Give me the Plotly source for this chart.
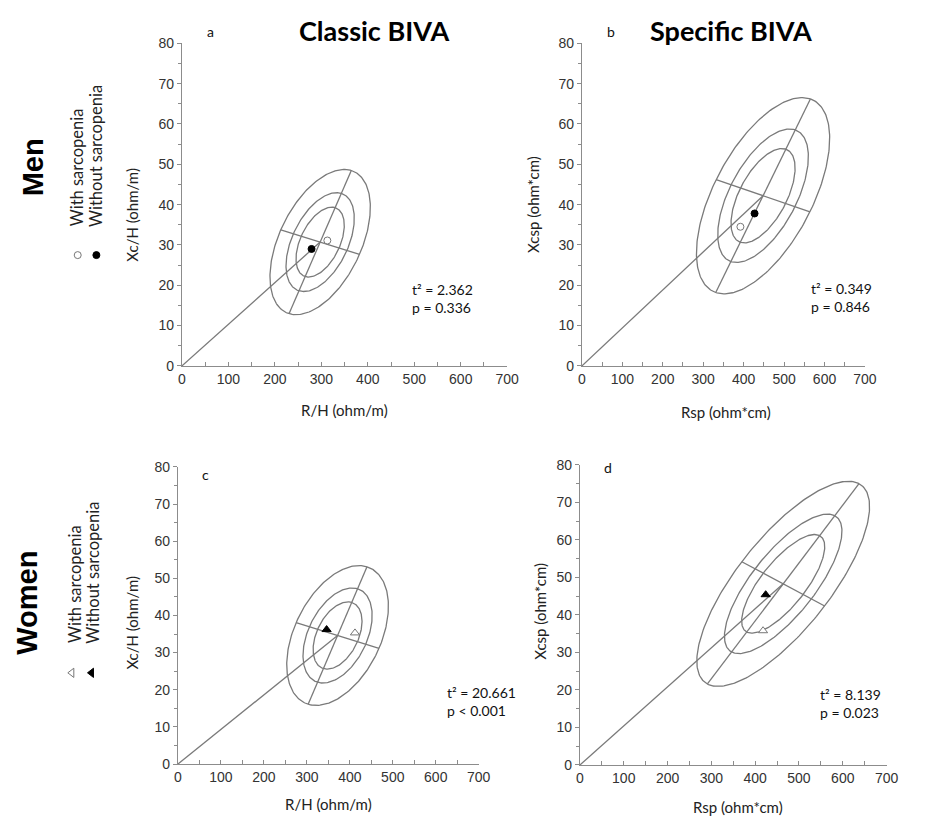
import numpy as np
import plotly.graph_objects as go

W, H = 932, 823

# ---------------- data ----------------
panels = ["a", "b", "c", "d"]
# group means: with sarcopenia (open markers) / without sarcopenia (filled markers)
with_sarc_x = [313, 392, 412, 418]
with_sarc_y = [31.1, 34.5, 35.3, 35.8]
without_sarc_x = [279, 427, 346, 424]
without_sarc_y = [29.0, 37.8, 36.2, 45.4]
# reference tolerance ellipse: centre and 95% semi-axis vectors
ell_cx = [297.5, 448.0, 371.5, 464.0]
ell_cy = [30.7, 42.2, 34.6, 48.3]
major_dx = [67.0, 117.0, 68.5, 173.0]
major_dy = [17.75, 24.0, 18.5, 26.7]
minor_dx = [84.7, 116.0, 96.5, 94.6]
minor_dy = [-3.05, -4.0, -3.45, -5.9]
tolerance_p = [0.50, 0.75, 0.95]
t2_text = ["t² = 2.362", "t² = 0.349", "t² = 20.661", "t² = 8.139"]
p_text = ["p = 0.336", "p = 0.846", "p < 0.001", "p = 0.023"]
stat_pos_x = [490, 562, 622, 543]
stat_pos_y = [16.8, 17.0, 16.9, 16.3]
x_titles = ["R/H (ohm/m)", "Rsp (ohm*cm)", "R/H (ohm/m)", "Rsp (ohm*cm)"]
y_titles = ["Xc/H (ohm/m)", "Xcsp (ohm*cm)", "Xc/H (ohm/m)", "Xcsp (ohm*cm)"]
col_titles = ["Classic BIVA", "Specific BIVA"]
row_titles = ["Men", "Women"]
legend_labels = ["With sarcopenia", "Without sarcopenia"]

# ---------------- layout geometry (pixels) ----------------
px_x = [(181, 512), (588, 876), (177, 483), (586, 898)]
px_y = [(36, 365), (36, 365), (468, 771), (466, 772)]

LINE = "#7a7a7a"
AX = "#8c8c8c"
TICKFONT = dict(family="Liberation Sans, Arial", size=14, color="#333333")
TXTFONT = "Lato, Carlito, Calibri, sans-serif"

fig = go.Figure()
chi95 = -2 * np.log(1 - 0.95)
theta = np.linspace(0, 2 * np.pi, 241)

for i, pn in enumerate(panels):
    xa = "x" if i == 0 else f"x{i+1}"
    ya = "y" if i == 0 else f"y{i+1}"
    cx, cy = ell_cx[i], ell_cy[i]
    ux, uy = major_dx[i], major_dy[i]
    vx, vy = minor_dx[i], minor_dy[i]
    for p in tolerance_p:
        s = np.sqrt(-2 * np.log(1 - p) / chi95)
        ex = cx + s * (np.cos(theta) * ux + np.sin(theta) * vx)
        ey = cy + s * (np.cos(theta) * uy + np.sin(theta) * vy)
        fig.add_trace(go.Scatter(x=ex, y=ey, mode="lines", xaxis=xa, yaxis=ya,
                                 line=dict(color=LINE, width=1.3), hoverinfo="skip", showlegend=False))
    # major & minor axes
    fig.add_trace(go.Scatter(x=[cx - ux, cx + ux], y=[cy - uy, cy + uy], mode="lines", xaxis=xa, yaxis=ya,
                             line=dict(color=LINE, width=1.3), hoverinfo="skip", showlegend=False))
    fig.add_trace(go.Scatter(x=[cx - vx, cx + vx], y=[cy - vy, cy + vy], mode="lines", xaxis=xa, yaxis=ya,
                             line=dict(color=LINE, width=1.3), hoverinfo="skip", showlegend=False))
    # line from origin to centre
    fig.add_trace(go.Scatter(x=[0, cx], y=[0, cy], mode="lines", xaxis=xa, yaxis=ya,
                             line=dict(color=LINE, width=1.3), hoverinfo="skip", showlegend=False,
                             cliponaxis=False))
    sym_open = "circle" if i < 2 else "triangle-up"
    size = 7 if i < 2 else 8
    fig.add_trace(go.Scatter(x=[with_sarc_x[i]], y=[with_sarc_y[i]], mode="markers", xaxis=xa, yaxis=ya,
                             marker=dict(symbol=sym_open, size=size, color="white",
                                         line=dict(color="#777777", width=1)),
                             showlegend=False, name=legend_labels[0]))
    fig.add_trace(go.Scatter(x=[without_sarc_x[i]], y=[without_sarc_y[i]], mode="markers", xaxis=xa, yaxis=ya,
                             marker=dict(symbol=sym_open, size=size, color="black",
                                         line=dict(color="black", width=1)),
                             showlegend=False, name=legend_labels[1]))

layout = dict(width=W, height=H, margin=dict(l=0, r=0, t=0, b=0), plot_bgcolor="rgba(0,0,0,0)",
              paper_bgcolor="white", showlegend=False)

annotations = []
for i in range(4):
    xk = "xaxis" if i == 0 else f"xaxis{i+1}"
    yk = "yaxis" if i == 0 else f"yaxis{i+1}"
    xa = "x" if i == 0 else f"x{i+1}"
    ya = "y" if i == 0 else f"y{i+1}"
    (x0, x1), (y0, y1) = px_x[i], px_y[i]
    layout[xk] = dict(domain=[x0 / W, x1 / W], anchor=ya, range=[0, 700], dtick=100, tick0=0,
                      ticks="inside", ticklen=4, tickcolor=AX, showline=True, linecolor=AX, linewidth=1,
                      showgrid=False, zeroline=False, tickfont=TICKFONT,
                      minor=dict(dtick=50, ticks="inside", ticklen=4, tickcolor=AX, showgrid=False))
    layout[yk] = dict(domain=[1 - y1 / H, 1 - y0 / H], anchor=xa, range=[0, 80], dtick=10, tick0=0,
                      ticks="outside", ticklen=4, tickcolor=AX, showline=True, linecolor=AX, linewidth=1,
                      showgrid=False, zeroline=False, tickfont=TICKFONT,
                      minor=dict(dtick=5, ticks="outside", ticklen=3, tickcolor=AX, showgrid=False))
    # stats text
    annotations.append(dict(x=stat_pos_x[i], y=stat_pos_y[i], xref=xa, yref=ya, xanchor="left",
                            yanchor="middle", showarrow=False, align="left",
                            text=t2_text[i] + "<br>" + p_text[i],
                            font=dict(family=TXTFONT, size=14, color="#111111")))

# panel letters
letter_pos = [(210, 24), (618, 24), (205, 476), (615, 469)]
for i, (lx, ly) in enumerate(letter_pos):
    annotations.append(dict(x=lx / W, y=1 - ly / H, xref="paper", yref="paper", showarrow=False,
                            xanchor="center", yanchor="middle",
                            text=panels[i], font=dict(family=TXTFONT, size=14, color="#111111")))

# axis titles
xt_pos = [(346, 410), (735, 412), (330, 812), (747, 815)]
yt_pos = [(130, 211), (538, 200), (130, 627), (545, 615)]
for i in range(4):
    annotations.append(dict(x=xt_pos[i][0] / W, y=1 - xt_pos[i][1] / H, xref="paper", yref="paper",
                            showarrow=False, text=x_titles[i], xanchor="center", yanchor="middle",
                            font=dict(family=TXTFONT, size=15, color="#222222")))
    annotations.append(dict(x=yt_pos[i][0] / W, y=1 - yt_pos[i][1] / H, xref="paper", yref="paper",
                            showarrow=False, text=y_titles[i], textangle=-90,
                            xanchor="center", yanchor="middle",
                            font=dict(family=TXTFONT, size=15, color="#222222")))

# column titles
for tx, t in zip([376, 740], col_titles):
    annotations.append(dict(x=tx / W, y=1 - 23 / H, xref="paper", yref="paper", showarrow=False,
                            xanchor="center", yanchor="middle",
                            text="<b>" + t + "</b>",
                            font=dict(family=TXTFONT, size=27, color="#000000")))
# row titles
for (rx, ry), t in zip([(29, 163), (24, 607)], row_titles):
    annotations.append(dict(x=rx / W, y=1 - ry / H, xref="paper", yref="paper", showarrow=False,
                            xanchor="center", yanchor="middle",
                            text="<b>" + t + "</b>", textangle=-90,
                            font=dict(family="Liberation Sans, Arial", size=29, color="#000000")))
# legend texts (rotated)
leg_text_x = [[74, 93], [73, 91]]
leg_text_bottom = [225, 650]
for r in range(2):
    for k in range(2):
        annotations.append(dict(x=leg_text_x[r][k] / W, y=1 - leg_text_bottom[r] / H, xref="paper",
                                yref="paper", showarrow=False, text=legend_labels[k], textangle=-90,
                                xanchor="center", yanchor="bottom",
                                font=dict(family=TXTFONT, size=16.5, color="#222222")))

# legend keys on a hidden overlay axis spanning the page
layout["xaxis5"] = dict(domain=[0, 1], range=[0, 1], visible=False, anchor="y5", fixedrange=True)
layout["yaxis5"] = dict(domain=[0, 1], range=[0, 1], visible=False, anchor="x5", fixedrange=True)
leg_key_x = [[75, 94], [69, 89]]
leg_key_y = [252, 678]
leg_sym = ["circle", "triangle-left"]
for r in range(2):
    for k in range(2):
        fig.add_trace(go.Scatter(x=[leg_key_x[r][k] / W], y=[1 - leg_key_y[r] / H], mode="markers",
                                 xaxis="x5", yaxis="y5", hoverinfo="skip", showlegend=False,
                                 marker=dict(symbol=leg_sym[r], size=7 if r == 0 else 8,
                                             color="white" if k == 0 else "black",
                                             line=dict(color="#777777" if k == 0 else "black", width=1))))

layout["annotations"] = annotations
fig.update_layout(**layout)
fig.write_html("out.html")
